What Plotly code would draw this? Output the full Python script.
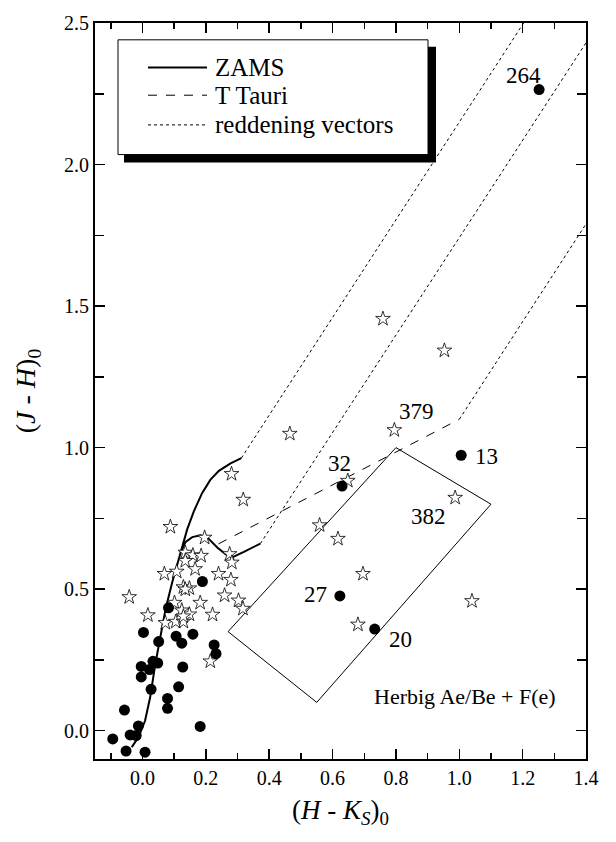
import plotly.graph_objects as go

# ---------------- data ----------------
# field stars (filled circles)
circ_x = [-0.094, -0.052, 0.008, -0.057, -0.039, -0.020, -0.013, 0.003, -0.004, -0.004,
          0.022, 0.033, 0.048, 0.027, 0.051, 0.082, 0.106, 0.124, 0.159, 0.127,
          0.114, 0.079, 0.079, 0.189, 0.226, 0.232, 0.182]
circ_y = [-0.029, -0.072, -0.076, 0.073, -0.015, -0.017, 0.017, 0.347, 0.227, 0.190,
          0.216, 0.245, 0.239, 0.146, 0.315, 0.434, 0.334, 0.309, 0.341, 0.225,
          0.155, 0.114, 0.079, 0.527, 0.303, 0.272, 0.015]
# labelled filled circles
lab_circ_names = ["264", "13", "32", "27", "20"]
lab_circ_x = [1.252, 1.006, 0.630, 0.623, 0.733]
lab_circ_y = [2.265, 0.973, 0.864, 0.476, 0.359]
lab_circ_tx = [1.203, 1.085, 0.621, 0.546, 0.814]
lab_circ_ty = [2.313, 0.969, 0.944, 0.481, 0.321]

# open stars
star_x = [0.465, 0.281, 0.318, 0.088, 0.759, 0.953, 0.648, 0.559, 0.617, 0.696, 0.680, 1.040,
          0.196, 0.275, 0.282, 0.135, 0.159, 0.185, 0.135, 0.166, 0.069, 0.108, 0.240, 0.279,
          0.129, 0.148, 0.135, 0.259, 0.303, 0.317, 0.182, 0.101, 0.124, 0.148, 0.221, 0.072,
          0.105, 0.129, 0.129, 0.214, -0.042, 0.017]
star_y = [1.049, 0.907, 0.816, 0.720, 1.455, 1.343, 0.883, 0.726, 0.678, 0.554, 0.375, 0.458,
          0.682, 0.624, 0.594, 0.629, 0.620, 0.618, 0.600, 0.571, 0.554, 0.562, 0.554, 0.533,
          0.507, 0.503, 0.499, 0.478, 0.460, 0.431, 0.452, 0.452, 0.425, 0.411, 0.410, 0.381,
          0.385, 0.385, 0.404, 0.245, 0.472, 0.408]
lab_star_names = ["379", "382"]
lab_star_x = [0.795, 0.987]
lab_star_y = [1.062, 0.823]
lab_star_tx = [0.866, 0.903]
lab_star_ty = [1.128, 0.757]

# ZAMS / intrinsic loci (solid)
zams_x = [-0.034, -0.013, 0.008, 0.024, 0.040, 0.056, 0.073, 0.094, 0.120, 0.141, 0.162,
          0.188, 0.214, 0.241, 0.278, 0.312]
zams_y = [-0.058, -0.023, 0.035, 0.117, 0.233, 0.326, 0.431, 0.525, 0.629, 0.711, 0.775,
          0.839, 0.886, 0.918, 0.944, 0.963]
giant_x = [0.120, 0.136, 0.157, 0.183, 0.209, 0.236, 0.262, 0.283, 0.320, 0.372]
giant_y = [0.629, 0.667, 0.684, 0.690, 0.678, 0.647, 0.624, 0.612, 0.632, 0.661]

# T Tauri locus (dashed)
ttau_x = [0.24, 1.00]
ttau_y = [0.66, 1.10]

# reddening vectors (dotted)
red1_x = [0.312, 1.203]
red1_y = [0.963, 2.50]
red2_x = [0.372, 1.40]
red2_y = [0.661, 2.43]
red3_x = [1.00, 1.40]
red3_y = [1.10, 1.79]

# Herbig Ae/Be region
box_x = [0.27, 0.80, 1.10, 0.55, 0.27]
box_y = [0.35, 1.00, 0.80, 0.10, 0.35]
box_label = "Herbig Ae/Be + F(e)"
box_label_x = 1.019
box_label_y = 0.122

FONT = "Liberation Serif"

fig = go.Figure()

def line(x, y, dash="solid", width=1.0):
    fig.add_trace(go.Scatter(x=x, y=y, mode="lines",
                             line=dict(color="black", width=width, dash=dash),
                             showlegend=False, hoverinfo="skip"))

line(red1_x, red1_y, "dot", 1)
line(red2_x, red2_y, "dot", 1)
line(red3_x, red3_y, "dot", 1)
line(ttau_x, ttau_y, "dash", 1)
line(zams_x, zams_y, "solid", 2)
line(giant_x, giant_y, "solid", 2)
line(box_x, box_y, "solid", 1)

fig.add_trace(go.Scatter(x=star_x + lab_star_x, y=star_y + lab_star_y, mode="markers",
                         marker=dict(symbol="star", size=11, color="white",
                                     line=dict(color="black", width=0.8)),
                         showlegend=False, cliponaxis=False))
fig.add_trace(go.Scatter(x=circ_x + lab_circ_x, y=circ_y + lab_circ_y, mode="markers",
                         marker=dict(symbol="circle", size=11, color="black"),
                         showlegend=False, cliponaxis=False))

annotations = []
for n, tx, ty in zip(lab_circ_names + lab_star_names, lab_circ_tx + lab_star_tx,
                     lab_circ_ty + lab_star_ty):
    annotations.append(dict(x=tx, y=ty, xref="x", yref="y", text=n, showarrow=False,
                            font=dict(family=FONT, size=23, color="black")))
annotations.append(dict(x=box_label_x, y=box_label_y, xref="x", yref="y", text=box_label,
                        showarrow=False, font=dict(family=FONT, size=22, color="black")))

# ---- page geometry ----
W, H = 616, 842
L, R, T, B = 95, 586, 15, 759   # plot frame in window pixels

def px(v):
    return (v - L) / (R - L)
def py(v):
    return (B - v) / (B - T)

# ---- legend drawn by hand ----
shapes = [
    dict(type="rect", xref="paper", yref="paper", x0=px(124), x1=px(436), y0=py(156), y1=py(39),
         fillcolor="black", line=dict(width=0), layer="above"),
    dict(type="rect", xref="paper", yref="paper", x0=px(118), x1=px(428), y0=py(148), y1=py(32),
         fillcolor="white", line=dict(color="black", width=1), layer="above"),
]
leg_items = [("ZAMS", "solid", 2, 60), ("T Tauri", "dash", 1, 88), ("reddening vectors", "dot", 1, 118)]
for name, dash, w, yy in leg_items:
    shapes.append(dict(type="line", xref="paper", yref="paper", x0=px(148), x1=px(207),
                       y0=py(yy), y1=py(yy), line=dict(color="black", width=w, dash=dash),
                       layer="above"))
    annotations.append(dict(x=px(213), y=py(yy), xref="paper", yref="paper", text=name,
                            xanchor="left", yanchor="middle", showarrow=False,
                            font=dict(family=FONT, size=25, color="black")))

axis_common = dict(showline=True, linecolor="black", linewidth=2, mirror="allticks",
                   ticks="inside", ticklen=10, tickwidth=1.5, tickcolor="black",
                   showgrid=False, zeroline=False, ticklabeloverflow="allow",
                   tickfont=dict(family=FONT, size=20, color="black"))

fig.update_layout(
    width=W, height=H,
    margin=dict(l=L, r=W - R, t=T, b=H - B),
    paper_bgcolor="white", plot_bgcolor="white",
    showlegend=False,
    font=dict(family=FONT, color="black"),
    xaxis=dict(range=[-0.15, 1.4], dtick=0.2, tick0=0, tickformat=".1f",
               minor=dict(ticks="inside", dtick=0.1, ticklen=6, tickcolor="black", tickwidth=1.5),
               title=dict(text="(<i>H</i> - <i>K<sub>S</sub></i>)<sub>0</sub>",
                          font=dict(family=FONT, size=27, color="black"), standoff=12),
               **axis_common),
    yaxis=dict(range=[-0.1, 2.5], dtick=0.5, tick0=0, tickformat=".1f",
               minor=dict(ticks="inside", dtick=0.25, ticklen=9, tickcolor="black", tickwidth=1.5),
               title=dict(text="(<i>J</i> - <i>H</i>)<sub>0</sub>",
                          font=dict(family=FONT, size=28, color="black"), standoff=20),
               **axis_common),
    shapes=shapes,
    annotations=annotations,
)

# remove the browser's default 8 px page margin so the 616x842 figure fills the window
fig.write_html("out.html",
               config={"displayModeBar": False, "staticPlot": True},
               post_script="document.body.style.margin='0';document.body.style.overflow='hidden';")
